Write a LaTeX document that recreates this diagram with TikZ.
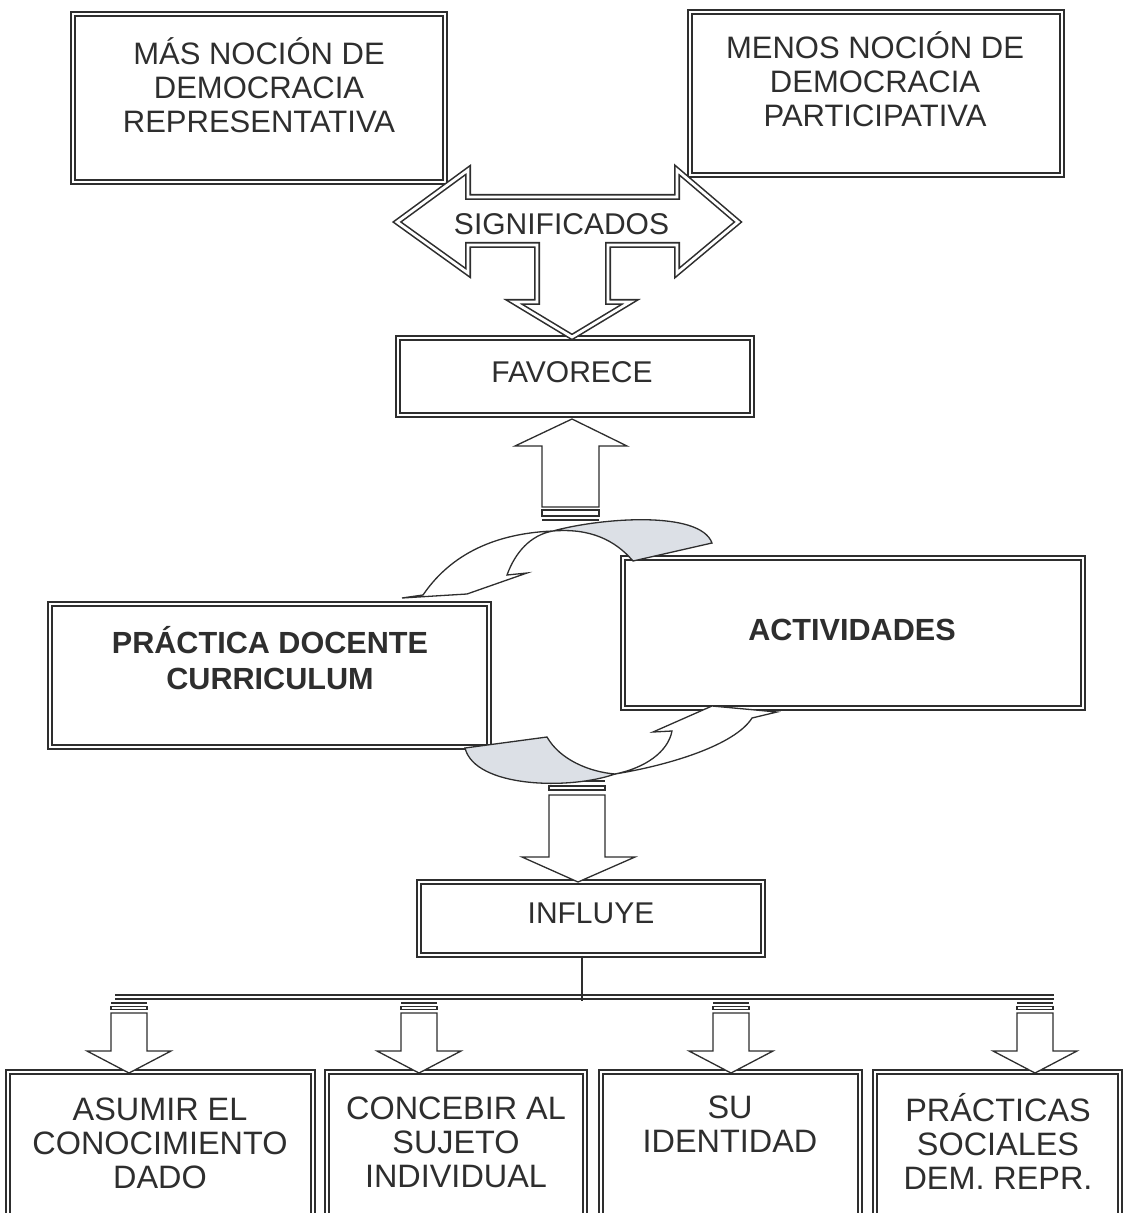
\documentclass[tikz,border=0pt]{standalone}
\usepackage{fontspec}
\setmainfont{Liberation Sans}
\definecolor{ink}{HTML}{2E2E2E}
\definecolor{lobe}{HTML}{DCE0E6}
\begin{document}
\begin{tikzpicture}[x=0.5pt,y=-0.5pt,
  dbl/.style={draw=ink, line width=0.8pt, double=white, double distance=1.4pt, line join=miter},
  box/.style={dbl, rectangle, inner sep=0pt},
  lbl/.style={text=ink, align=center, inner sep=0pt, font=\fontsize{15}{17}\selectfont},
  tlbl/.style={lbl, font=\fontsize{15.5}{17}\selectfont},
  blbl/.style={lbl, font=\bfseries\fontsize{15.3}{18}\selectfont},
  sbl/.style={lbl, font=\fontsize{16.2}{17}\selectfont},
  blk/.style={draw=ink, line width=0.65pt, fill=white, line join=miter},
  back/.style={draw=ink, line width=0.65pt, fill=lobe},
]
\clip (0,0) rectangle (1124,1213);
\useasboundingbox (0,0) rectangle (1124,1213);

% boxes
\node[box, minimum width=186pt, minimum height=84pt]   (mas) at (259,98) {};
\node[box, minimum width=186pt, minimum height=81.5pt] (men) at (876,93.5) {};
\node[box, minimum width=177pt, minimum height=38.5pt] (fav) at (575,376.5) {};
\node[box, minimum width=219.5pt, minimum height=71.5pt] (pra) at (269.5,675.5) {};
\node[box, minimum width=230pt, minimum height=75pt]   (act) at (853,633) {};
\node[box, minimum width=172pt, minimum height=36.5pt] (inf) at (591,918.5) {};
\node[box, minimum width=152.5pt, minimum height=75pt] (b1) at (160.5,1147) {};
\node[box, minimum width=129pt, minimum height=75pt]   (b2) at (456,1147) {};
\node[box, minimum width=129.5pt, minimum height=75pt] (b3) at (730.5,1147) {};
\node[box, minimum width=122.5pt, minimum height=75pt] (b4) at (997.5,1147) {};

% double arrow with its stem down to FAVORECE
\draw[dbl, fill=white] (397,222) -- (468,170) -- (468,197) -- (677,197) -- (677,170)
  -- (738,222) -- (677,273) -- (677,245) -- (608,245) -- (608,302) -- (630,302)
  -- (572,337) -- (514,302) -- (537,302) -- (537,245) -- (468,245) -- (468,273) -- cycle;

% striped arrow up to FAVORECE
\draw[blk] (572,419) -- (627,446) -- (599,446) -- (599,507) -- (542,507) -- (542,446) -- (515,446) -- cycle;
\draw[blk] (542,510) rectangle (599,516);
\draw[ink, line width=1.2pt] (542,520) -- (599,520);

% striped arrow down to INFLUYE
\draw[ink, line width=1.4pt] (549,781) -- (605,781);
\draw[blk] (549,786) rectangle (605,790);
\draw[blk] (549,795) -- (605,795) -- (605,857) -- (635,857) -- (578,882) -- (522,857) -- (549,857) -- cycle;

% curved arrow towards PRACTICA DOCENTE
\filldraw[back] (553,531) .. controls (600,518) and (700,510) .. (712,543) -- (633,561)
  .. controls (615,540) and (590,528) .. (553,531) -- cycle;
\filldraw[blk] (553,531) .. controls (505,533) and (455,548) .. (423,595) -- (402,598)
  -- (467,594) -- (527,573) -- (507,575) .. controls (515,553) and (530,535) .. (553,531) -- cycle;

% curved arrow towards ACTIVIDADES
\filldraw[back] (465,748) -- (547,737) .. controls (560,760) and (590,772) .. (615,774)
  .. controls (570,790) and (475,788) .. (465,748) -- cycle;
\filldraw[blk] (615,774) .. controls (670,765) and (735,745) .. (752,718) -- (777,712)
  -- (712,706) -- (653,732) -- (672,731) .. controls (668,752) and (645,768) .. (615,774) -- cycle;

% branching from INFLUYE
\coordinate (barL) at (115,997);
\coordinate (barR) at (1054,997);
\coordinate (j) at (582,1001);
\draw[dbl] (barL) -- (barR);
\draw[ink, line width=1pt] (inf.south -| j) -- (j);
\foreach \c in {129,419,731,1035}{
  \draw[ink, line width=1.4pt] (\c-18,1003) -- (\c+18,1003);
  \draw[blk] (\c-18,1006.5) rectangle (\c+18,1009.5);
  \draw[blk] (\c-18,1013) -- (\c+18,1013) -- (\c+18,1051) -- (\c+42,1051) -- (\c,1073)
    -- (\c-42,1051) -- (\c-18,1051) -- cycle;
}

% labels
\node[tlbl] (masT) at (259,85) {MÁS NOCIÓN DE\\DEMOCRACIA\\REPRESENTATIVA};
\node[tlbl] (menT) at (875,79) {MENOS NOCIÓN DE\\DEMOCRACIA\\PARTICIPATIVA};
\node[lbl] (sigT) at (561.5,224) {SIGNIFICADOS};
\node[lbl] (favT) at (572,372) {FAVORECE};
\node[blbl] (praT) at (270,658) {PRÁCTICA DOCENTE\\CURRICULUM};
\node[blbl] (actT) at (852,630) {ACTIVIDADES};
\node[lbl] (infT) at (591,913) {INFLUYE};
\node[sbl] (b1T) at (160,1143) {ASUMIR EL\\CONOCIMIENTO\\DADO};
\node[sbl] (b2T) at (456,1142) {CONCEBIR AL\\SUJETO\\INDIVIDUAL};
\node[sbl] (b3T) at (730,1124.5) {SU\\IDENTIDAD};
\node[sbl] (b4T) at (998,1141) {PRÁCTICAS\\SOCIALES\\DEM. REPR.};
\end{tikzpicture}
\end{document}
